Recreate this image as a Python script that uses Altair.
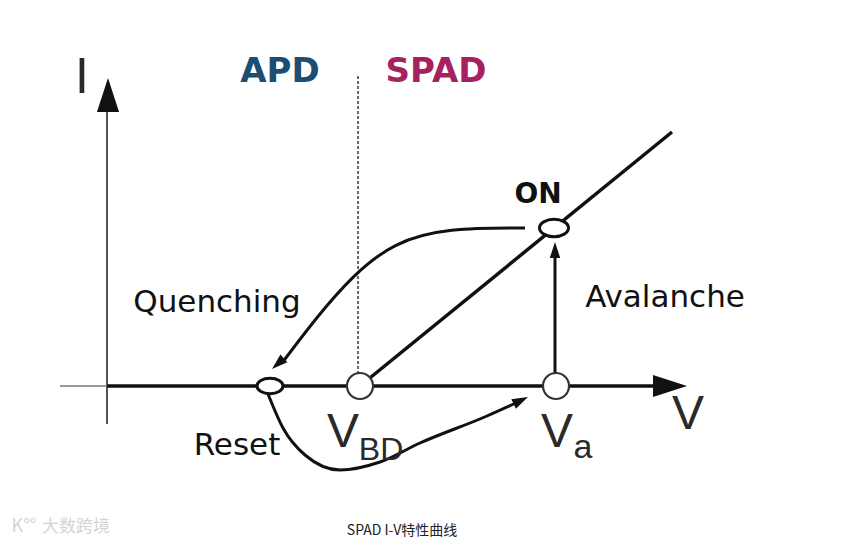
import altair as alt
import pandas as pd

# ---- diagram geometry (sketch coordinates: x to the right, y downward) ----
# straight strokes
seg_names = ["y_axis", "x_axis_left", "x_axis", "diagonal", "avalanche"]
seg_x1 = [107, 60, 107, 360, 555]
seg_y1 = [424, 386, 386, 386, 374]
seg_x2 = [107, 107, 656, 672, 555]
seg_y2 = [112, 386, 386, 132, 252]
seg_color = ["#555555", "#777777", "#111111", "#111111", "#111111"]
seg_width = [2, 1.5, 3.5, 3.5, 3]

# dotted APD / SPAD divider
div_x = [358]
div_y1 = [76]
div_y2 = [374]

# curved arrows (control points of smooth curves)
quench_x = [525, 448, 394, 352, 316, 282]
quench_y = [228, 228, 242, 276, 318, 363]
reset_x = [268, 283, 305, 340, 380, 420, 487, 518]
reset_y = [394, 428, 455, 470, 462, 443, 416, 402]

# arrow heads: tip position, rotation (deg, clockwise from "up"), size
head_x = [108, 687, 555, 272, 528]
head_y = [78, 386, 242, 369, 397]
head_angle = [0, 90, 0, 228, 64]
head_size = [1156, 1156, 256, 256, 256]

# operating points
circ_x = [360, 556]
circ_y = [386, 386]
ell_x = [554, 270]
ell_y = [228, 386]
ell_size = [841, 676]

# labels
lab_text = ["Quenching", "Avalanche", "Reset"]
lab_x = [217, 665, 237]
lab_y = [303, 298, 446]

bold_text = ["APD", "SPAD", "ON"]
bold_x = [280, 436, 538]
bold_y = [72, 72, 195]
bold_size = [34, 34, 28]
bold_color = ["#1d4d72", "#a6215f", "#111111"]

sym_text = ["I", "V", "V", "BD", "V", "a"]
sym_x = [82, 688, 343, 381, 557, 583]
sym_y = [78, 415, 433, 450, 433, 448]
sym_size = [50, 48, 48, 32, 48, 34]

caption = ["SPAD I-V特性曲线"]
caption_x = [402]
caption_y = [531]
wm_text = ["K°°", "大数跨境"]
wm_x = [24, 76]
wm_y = [527, 527]
wm_size = [18, 17]

# ---- scales (1 unit = 1 px) ----
xs = alt.Scale(domain=[8, 835], nice=False, zero=False)
ys = alt.Scale(domain=[8, 541], nice=False, zero=False, reverse=True)


def X(f="x"):
    return alt.X(f"{f}:Q", scale=xs, axis=None)


def Y(f="y"):
    return alt.Y(f"{f}:Q", scale=ys, axis=None)


seg_df = pd.DataFrame(dict(name=seg_names, x=seg_x1, y=seg_y1, x2=seg_x2, y2=seg_y2,
                           c=seg_color, w=seg_width))
segs = alt.Chart(seg_df).mark_rule(strokeCap="butt").encode(
    x=X(), y=Y(), x2="x2:Q", y2="y2:Q",
    color=alt.Color("c:N", scale=None),
    strokeWidth=alt.StrokeWidth("w:Q", scale=None),
)

div_df = pd.DataFrame(dict(x=div_x, y=div_y1, y2=div_y2))
divider = alt.Chart(div_df).mark_rule(color="#444444", strokeWidth=1.6, strokeDash=[3, 2]).encode(
    x=X(), y=Y(), y2="y2:Q"
)

q_df = pd.DataFrame(dict(x=quench_x, y=quench_y, o=list(range(len(quench_x)))))
quench = alt.Chart(q_df).mark_line(color="#111111", strokeWidth=3, interpolate="basis").encode(
    x=X(), y=Y(), order="o:Q"
)
r_df = pd.DataFrame(dict(x=reset_x, y=reset_y, o=list(range(len(reset_x)))))
reset = alt.Chart(r_df).mark_line(color="#111111", strokeWidth=3, interpolate="monotone").encode(
    x=X(), y=Y(), order="o:Q"
)

h_df = pd.DataFrame(dict(x=head_x, y=head_y, a=head_angle, s=head_size))
heads = alt.Chart(h_df).mark_point(
    shape="M0,0 L0.65,2 L-0.65,2 Z", filled=True, color="#111111", opacity=1
).encode(
    x=X(), y=Y(),
    angle=alt.Angle("a:Q", scale=None),
    size=alt.Size("s:Q", scale=None),
)

c_df = pd.DataFrame(dict(x=circ_x, y=circ_y))
circles = alt.Chart(c_df).mark_point(
    shape="circle", size=676, fill="white", stroke="#333333", strokeWidth=2.2, opacity=1, filled=False
).encode(x=X(), y=Y())

e_df = pd.DataFrame(dict(x=ell_x, y=ell_y, s=ell_size))
ellipses = alt.Chart(e_df).mark_point(
    shape="M-1,0 A1,0.6 0 1,0 1,0 A1,0.6 0 1,0 -1,0 Z",
    fill="white", stroke="#111111", strokeWidth=3, opacity=1, filled=False
).encode(x=X(), y=Y(), size=alt.Size("s:Q", scale=None))

l_df = pd.DataFrame(dict(t=lab_text, x=lab_x, y=lab_y))
labels = alt.Chart(l_df).mark_text(
    font="DejaVu Sans", fontSize=31, color="#111111", baseline="middle", align="center"
).encode(x=X(), y=Y(), text="t:N")

b_df = pd.DataFrame(dict(t=bold_text, x=bold_x, y=bold_y, s=bold_size, c=bold_color))
bolds = alt.Chart(b_df).mark_text(
    font="DejaVu Sans", fontWeight="bold", baseline="middle", align="center"
).encode(x=X(), y=Y(), text="t:N",
         size=alt.Size("s:Q", scale=None), color=alt.Color("c:N", scale=None))

s_df = pd.DataFrame(dict(t=sym_text, x=sym_x, y=sym_y, s=sym_size))
syms = alt.Chart(s_df).mark_text(
    font="Liberation Sans", color="#2a2a2a", baseline="middle", align="center"
).encode(x=X(), y=Y(), text="t:N", size=alt.Size("s:Q", scale=None))

cap_df = pd.DataFrame(dict(t=caption, x=caption_x, y=caption_y))
cap = alt.Chart(cap_df).mark_text(
    font="Noto Sans CJK SC", fontSize=14, color="#222222", baseline="middle", align="center"
).encode(x=X(), y=Y(), text="t:N")

wm_df = pd.DataFrame(dict(t=wm_text, x=wm_x, y=wm_y, s=wm_size))
wm = alt.Chart(wm_df).mark_text(
    font="Noto Sans CJK SC", color="#d4d4d4", baseline="middle", align="center"
).encode(x=X(), y=Y(), text="t:N", size=alt.Size("s:Q", scale=None))

chart = alt.layer(
    segs, divider, quench, reset, heads, circles, ellipses, labels, bolds, syms, cap, wm
).properties(
    width=827, height=533, padding=0,
    autosize=alt.AutoSizeParams(type="none"),
    background="white",
).configure_view(stroke=None)

chart.save("out.html", embed_options={"renderer": "svg", "actions": False})
